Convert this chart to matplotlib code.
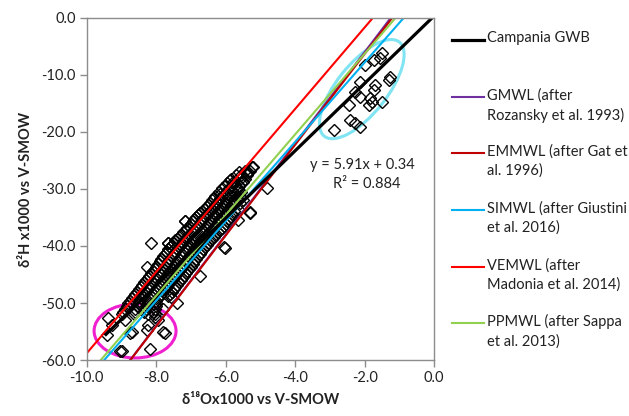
import matplotlib
matplotlib.use("Agg")
import matplotlib.pyplot as plt
import numpy as np
from matplotlib.patches import Ellipse
from matplotlib.lines import Line2D

plt.rcParams["font.family"] = ["Lato", "DejaVu Sans"]
plt.rcParams["axes.unicode_minus"] = False

# groundwater samples, main (low-altitude) cluster
main_x = [-5.25, -5.45, -5.30, -5.55, -5.40, -5.70, -5.85, -5.60, -5.45,
          -5.95, -5.75, -5.55, -6.10, -5.90, -5.65, -4.80, -6.20, -6.00,
          -5.80, -5.55, -6.30, -6.10, -5.85, -5.60, -6.40, -6.20, -6.00,
          -5.75, -5.50, -6.50, -6.30, -6.05, -5.85, -6.60, -6.40, -6.15,
          -5.90, -5.65, -6.75, -6.50, -6.25, -6.00, -5.30, -6.85, -6.60,
          -6.35, -6.10, -5.85, -7.17, -6.95, -6.70, -6.45, -6.20, -5.95,
          -7.05, -6.80, -6.55, -6.30, -6.05, -7.15, -6.90, -6.65, -6.40,
          -6.15, -7.30, -7.05, -6.80, -6.55, -6.30, -7.40, -7.15, -6.90,
          -6.65, -6.40, -8.15, -7.65, -7.50, -7.25, -7.00, -6.75, -6.50,
          -7.60, -7.35, -7.10, -6.85, -6.60, -6.05, -7.70, -7.45, -7.20,
          -6.95, -6.70, -7.80, -7.55, -7.30, -7.05, -6.80, -7.90, -7.65,
          -7.40, -7.15, -6.90, -8.27, -8.00, -7.75, -7.50, -7.25, -7.00,
          -8.10, -7.85, -7.60, -7.35, -7.10, -8.20, -7.95, -7.70, -7.45,
          -7.20, -6.75, -8.30, -8.05, -7.80, -7.55, -7.30, -8.40, -8.15,
          -7.90, -7.65, -7.40, -8.50, -8.25, -8.00, -7.75, -7.50, -8.60,
          -8.35, -8.10, -7.85, -7.60, -8.70, -8.45, -8.20, -7.95, -7.55,
          -8.80, -8.50, -8.25, -8.00, -7.40, -8.90, -8.60, -8.30, -8.05,
          -7.80, -9.00, -8.65, -8.25, -8.05, -9.38, -8.90, -8.03, -7.95,
          -9.28, -8.23, -8.27, -9.42, -8.75, -8.70, -7.80, -7.74, -9.04,
          -8.18, -8.99, -5.87, -5.64, -5.39, -5.20, -5.29, -5.64, -6.01,
          -6.73, -7.17, -7.65]
main_y = [-26.2, -26.8, -26.8, -27.5, -27.5, -27.5, -28.3, -28.3, -28.3,
          -29.0, -29.0, -29.0, -29.8, -29.8, -29.8, -29.8, -30.5, -30.5,
          -30.5, -30.5, -31.2, -31.2, -31.2, -31.2, -32.0, -32.0, -32.0,
          -32.0, -32.0, -32.8, -32.8, -32.8, -32.8, -33.5, -33.5, -33.5,
          -33.5, -33.5, -34.2, -34.2, -34.2, -34.2, -34.2, -35.0, -35.0,
          -35.0, -35.0, -35.0, -35.7, -35.7, -35.7, -35.7, -35.7, -35.7,
          -36.5, -36.5, -36.5, -36.5, -36.5, -37.2, -37.2, -37.2, -37.2,
          -37.2, -38.0, -38.0, -38.0, -38.0, -38.0, -38.8, -38.8, -38.8,
          -38.8, -38.8, -39.4, -39.4, -39.4, -39.4, -39.4, -39.4, -39.4,
          -40.2, -40.2, -40.2, -40.2, -40.2, -40.2, -41.0, -41.0, -41.0,
          -41.0, -41.0, -41.8, -41.8, -41.8, -41.8, -41.8, -42.6, -42.6,
          -42.6, -42.6, -42.6, -43.6, -43.6, -43.6, -43.6, -43.6, -43.6,
          -44.4, -44.4, -44.4, -44.4, -44.4, -45.2, -45.2, -45.2, -45.2,
          -45.2, -45.2, -46.0, -46.0, -46.0, -46.0, -46.0, -46.8, -46.8,
          -46.8, -46.8, -46.8, -47.6, -47.6, -47.6, -47.6, -47.6, -48.4,
          -48.4, -48.4, -48.4, -48.4, -49.2, -49.2, -49.2, -49.2, -49.2,
          -50.0, -50.0, -50.0, -50.0, -50.0, -51.0, -51.0, -51.0, -51.0,
          -51.0, -52.0, -52.0, -52.0, -52.0, -52.6, -53.0, -52.4, -53.0,
          -53.9, -53.9, -54.7, -55.6, -55.3, -55.0, -55.0, -55.3, -58.5,
          -58.1, -58.5, -28.4, -30.2, -27.2, -26.1, -34.0, -35.4, -40.4,
          -34.2, -35.7, -39.4]

# more samples packed into the core of the cluster
core_x = [-5.62, -5.35, -5.78, -5.50, -6.02, -5.82, -5.62, -6.15, -5.95,
          -5.72, -6.35, -6.15, -5.92, -5.68, -6.45, -6.25, -6.02, -5.80,
          -5.60, -6.55, -6.35, -6.10, -5.88, -6.68, -6.45, -6.20, -5.95,
          -5.75, -6.80, -6.55, -6.30, -6.05, -5.80, -6.92, -6.68, -6.42,
          -6.18, -5.92, -7.00, -6.75, -6.50, -6.25, -6.00, -7.10, -6.85,
          -6.60, -6.35, -6.10, -7.22, -6.98, -6.72, -6.48, -6.22, -7.35,
          -7.10, -6.85, -6.60, -6.35, -7.45, -7.20, -6.95, -6.70, -6.45,
          -7.55, -7.30, -7.05, -6.80, -6.55, -7.65, -7.40, -7.15, -6.90,
          -6.65, -7.75, -7.50, -7.25, -7.00, -6.75, -7.85, -7.60, -7.35,
          -7.10, -6.85, -7.95, -7.70, -7.45, -7.20, -6.95, -8.05, -7.80,
          -7.55, -7.30, -7.05, -8.15, -7.90, -7.65, -7.40, -7.15, -8.25,
          -8.00, -7.75, -7.50, -7.25, -8.35, -8.10, -7.85, -7.60, -7.35,
          -8.45, -8.20, -7.95, -7.70, -7.45, -8.55, -8.30, -8.05, -7.80,
          -7.55, -8.65, -8.40, -8.15, -7.90, -7.65, -8.75, -8.50, -8.25,
          -8.00, -8.85, -8.55, -8.28, -8.02, -8.95, -8.62, -8.35, -8.10]
core_y = [-27.0, -27.0, -28.7, -28.7, -29.4, -29.4, -29.4, -30.9, -30.9,
          -30.9, -31.6, -31.6, -31.6, -31.6, -32.4, -32.4, -32.4, -32.4,
          -32.4, -33.1, -33.1, -33.1, -33.1, -33.9, -33.9, -33.9, -33.9,
          -33.9, -34.6, -34.6, -34.6, -34.6, -34.6, -35.3, -35.3, -35.3,
          -35.3, -35.3, -36.1, -36.1, -36.1, -36.1, -36.1, -36.9, -36.9,
          -36.9, -36.9, -36.9, -37.6, -37.6, -37.6, -37.6, -37.6, -38.4,
          -38.4, -38.4, -38.4, -38.4, -39.0, -39.0, -39.0, -39.0, -39.0,
          -39.8, -39.8, -39.8, -39.8, -39.8, -40.6, -40.6, -40.6, -40.6,
          -40.6, -41.4, -41.4, -41.4, -41.4, -41.4, -42.2, -42.2, -42.2,
          -42.2, -42.2, -43.1, -43.1, -43.1, -43.1, -43.1, -44.0, -44.0,
          -44.0, -44.0, -44.0, -44.8, -44.8, -44.8, -44.8, -44.8, -45.6,
          -45.6, -45.6, -45.6, -45.6, -46.4, -46.4, -46.4, -46.4, -46.4,
          -47.2, -47.2, -47.2, -47.2, -47.2, -48.0, -48.0, -48.0, -48.0,
          -48.0, -48.8, -48.8, -48.8, -48.8, -48.8, -49.6, -49.6, -49.6,
          -49.6, -50.5, -50.5, -50.5, -50.5, -51.5, -51.5, -51.5, -51.5]

# high-altitude samples (cyan ellipse)
high_x = [-1.50, -1.55, -1.74, -1.98, -1.28, -1.31, -2.12, -1.69, -1.74,
          -2.27, -2.12, -1.84, -1.79, -1.50, -2.46, -1.88, -2.41, -2.14,
          -2.27, -2.89]
high_y = [-6.2, -7.1, -7.4, -8.2, -10.3, -10.9, -11.2, -11.8, -12.6,
          -12.9, -13.8, -14.1, -14.7, -14.7, -15.3, -15.3, -17.9, -19.1,
          -18.5, -19.6]

# meteoric water lines
line_names = ["GMWL (after\nRozansky et al. 1993)",
              "EMMWL (after Gat et\nal. 1996)",
              "SIMWL (after Giustini\net al. 2016)",
              "VEMWL (after\nMadonia et al. 2014)",
              "PPMWL (after Sappa\net al. 2013)"]
line_slopes = [8.0, 7.96, 6.96, 7.14, 7.07]
line_icepts = [10.0, 9.6, 6.1, 12.6, 7.85]
line_colors = ["#7030A0", "#C00000", "#00B0F0", "#FF0000", "#92D050"]

fit_slope, fit_icept = 5.91, 0.34

fig = plt.figure(figsize=(6.29, 4.16), dpi=100)
ax = fig.add_axes([0.138, 0.1346, 0.552, 0.8222])

for px, py in [(core_x, core_y), (main_x, main_y), (high_x, high_y)]:
    ax.plot(px, py, ls="none", marker="D", ms=6.4, mfc="none",
            mec="black", mew=1.0)

xs = np.array([-10.0, 0.0])
for s, b, c in zip(line_slopes, line_icepts, line_colors):
    ax.plot(xs, s * xs + b, color=c, lw=1.5)
xf = np.array([-9.45, 0.0])
ax.plot(xf, fit_slope * xf + fit_icept, color="black", lw=2.3)

ax.add_patch(Ellipse((0.792, 0.792), 0.35, 0.145, angle=52,
                     transform=ax.transAxes, fill=False,
                     edgecolor="#80E4F2", lw=2.2))
ax.add_patch(Ellipse((0.139, 0.085), 0.236, 0.158, angle=0,
                     transform=ax.transAxes, fill=False,
                     edgecolor="#F020D0", lw=2.2))

ax.text(-2.07, -25.8, "y = 5.91x + 0.34", ha="center", va="center",
        fontsize=10.5, color="#222222")
ax.text(-1.95, -29.1, "R² = 0.884", ha="center", va="center",
        fontsize=10.5, color="#222222")

ax.set_xlim(-10, 0)
ax.set_ylim(-60, 0)
ax.set_xticks(np.arange(-10, 0.1, 2))
ax.set_yticks(np.arange(-60, 0.1, 10))
ax.xaxis.set_major_formatter(matplotlib.ticker.FormatStrFormatter("%.1f"))
ax.yaxis.set_major_formatter(matplotlib.ticker.FormatStrFormatter("%.1f"))
for sp in ax.spines.values():
    sp.set_color("#8C8C8C")
    sp.set_linewidth(1.0)
ax.tick_params(direction="out", length=5, width=1.0, color="#8C8C8C",
               labelsize=10.5, labelcolor="#222222", pad=3)

ax.set_xlabel("δ¹⁸Ox1000 vs V-SMOW", fontsize=10.5, fontweight="bold",
              color="#222222", labelpad=6)
ax.set_ylabel("δ²H x1000 vs V-SMOW", fontsize=10.5, fontweight="bold",
              color="#222222", labelpad=6)

# legend drawn by hand to keep the Excel look
W, H = 629.0, 416.0
leg_rows = [("Campania GWB", "black", 2.3)] + \
    [(n, c, 1.5) for n, c in zip(line_names, line_colors)]
leg_y = [40, 97, 153, 210, 267, 323]
for (name, col, lw), py in zip(leg_rows, leg_y):
    yf = 1 - py / H
    fig.add_artist(Line2D([452 / W, 484 / W], [yf, yf], color=col, lw=lw))
    fig.text(487 / W, 1 - (py - 9) / H, name, ha="left", va="top",
             fontsize=10.5, color="#222222", linespacing=1.45)

fig.savefig("out.png", dpi=100)
